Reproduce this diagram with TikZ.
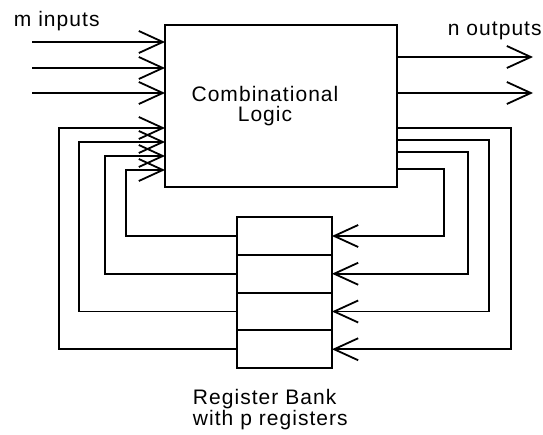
\documentclass[tikz,border=0pt]{standalone}
\usepackage{fontspec}
\setmainfont{Liberation Sans}[LetterSpace=5]
\usetikzlibrary{arrows.meta, positioning}

\begin{document}
\begin{tikzpicture}[x=1pt, y=-1pt, line width=1.8pt,
        >={Straight Barb[length=24pt, width=22pt]},
        blockbox/.style={draw, inner sep=0pt, outer sep=0pt},
        regbox/.style={blockbox, minimum width=95pt, minimum height=37.75pt},
        lbl/.style={inner sep=0pt, font=\fontsize{21}{20}\selectfont}]
        \useasboundingbox (0,0) rectangle (543,435);

        \node[blockbox, minimum width=232pt, minimum height=162pt] (comb) at (281,106) {};
        \node[lbl, align=center, anchor=base] (comblabel) at (265,122) {Combinational\\Logic};

        \node[regbox] (reg1) at (284.5,236) {};
        \node[regbox, below=0pt of reg1] (reg2) {};
        \node[regbox, below=0pt of reg2] (reg3) {};
        \node[regbox, below=0pt of reg3] (reg4) {};
        \node[lbl, font=\fontsize{21}{18}\selectfont, align=left, anchor=base west] (banklabel) at (192,425) {Register Bank\\with p registers};

        \node[lbl, anchor=base west] (minputs) at (13,27) {m inputs};
        \node[lbl, anchor=base west] (noutputs) at (447,36) {n outputs};

        \coordinate (in1) at (32,42);
        \coordinate (in2) at (32,68);
        \coordinate (in3) at (32,93);
        \draw[->] (in1) -- (in1 -| comb.west);
        \draw[->] (in2) -- (in2 -| comb.west);
        \draw[->] (in3) -- (in3 -| comb.west);

        \coordinate (out1) at (533,57);
        \coordinate (out2) at (533,93);
        \draw[->] (out1 -| comb.east) -- (out1);
        \draw[->] (out2 -| comb.east) -- (out2);

        \draw[->] (comb.east |- 0,128) -- ++ (114,0) |- (reg4.east);
        \draw[->] (comb.east |- 0,140) -- ++ (92,0) |- (reg3.east);
        \draw[->] (comb.east |- 0,152) -- ++ (71,0) |- (reg2.east);
        \draw[->] (comb.east |- 0,169) -- ++ (47,0) |- (reg1.east);

        \draw[->] (reg1.west) -- ++ (-111,0) |- (comb.west |- 0,170);
        \draw[->] (reg2.west) -- ++ (-132,0) |- (comb.west |- 0,156);
        \draw[->] (reg3.west) -- ++ (-158,0) |- (comb.west |- 0,142);
        \draw[->] (reg4.west) -- ++ (-178,0) |- (comb.west |- 0,128);
    \end{tikzpicture}
\end{document}
